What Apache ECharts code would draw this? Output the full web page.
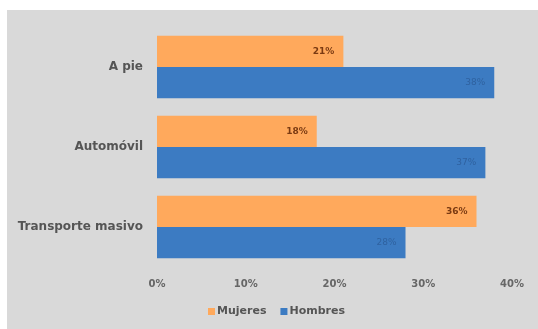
<!DOCTYPE html>
<html>
<head>
<meta charset="utf-8">
<script src="https://cdn.jsdelivr.net/npm/echarts@6/dist/echarts.min.js"></script>
<style>html,body{margin:0;padding:0;background:#fff}#c{width:538px;height:329px}</style>
</head>
<body>
<div id="c"></div>
<script>
const categories = ['A pie', 'Automóvil', 'Transporte masivo'];
const mujeres = [21, 18, 36];
const hombres = [38, 37, 28];
const xTicks = [0, 10, 20, 30, 40];

const chart = echarts.init(document.getElementById('c'));
const FONT = '"DejaVu Sans", sans-serif';
chart.setOption({
  backgroundColor: '#ffffff',
  animation: false,
  graphic: [{
    type: 'rect', z: -10, silent: true,
    shape: { x: 7, y: 10, width: 531, height: 319 },
    style: { fill: '#d9d9d9' }
  }],
  grid: { left: 157, right: 26, top: 27, height: 240 },
  legend: {
    data: ['Mujeres', 'Hombres'],
    bottom: 7, left: 203,
    itemWidth: 7, itemHeight: 7, itemGap: 14,
    icon: 'rect',
    textStyle: { fontFamily: FONT, fontSize: 11, fontWeight: 'bold', color: '#555', padding: [0, 0, 0, -3] }
  },
  xAxis: {
    type: 'value', min: xTicks[0], max: xTicks[xTicks.length - 1], interval: 10,
    axisLine: { show: false }, axisTick: { show: false }, splitLine: { show: false },
    axisLabel: { formatter: '{value}%', fontFamily: FONT, fontSize: 10, fontWeight: 'bold', color: '#666', margin: 12 }
  },
  yAxis: {
    type: 'category', data: categories, inverse: true,
    axisLine: { show: false }, axisTick: { show: false },
    axisLabel: { fontFamily: FONT, fontSize: 12, fontWeight: 'bold', color: '#555', margin: 14 }
  },
  series: [
    {
      name: 'Mujeres', type: 'bar', data: mujeres, barGap: '0%', barCategoryGap: '22%',
      itemStyle: { color: '#ffa95c' },
      label: { show: true, position: 'insideRight', distance: 9, formatter: '{c}%', fontFamily: FONT, fontSize: 9, fontWeight: 'bold', color: '#7a3a12' }
    },
    {
      name: 'Hombres', type: 'bar', data: hombres,
      itemStyle: { color: '#3c7bc2' },
      label: { show: true, position: 'insideRight', distance: 9, formatter: '{c}%', fontFamily: FONT, fontSize: 9, color: '#2f62a0' }
    }
  ]
});
</script>
</body>
</html>
